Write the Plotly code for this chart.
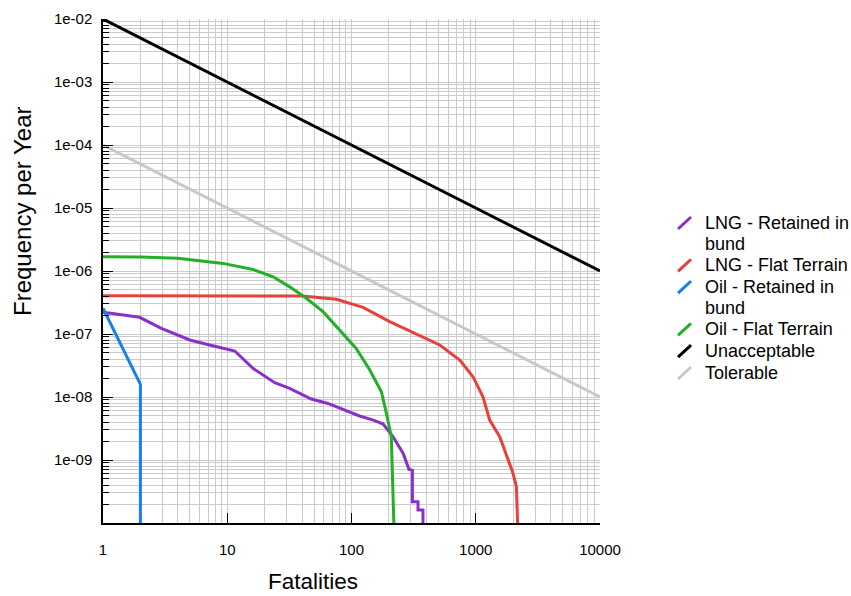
import plotly.graph_objects as go

# ---- data ----
lng_bund_x = [1, 1.97, 2.95, 4.99, 7.22, 11.5, 16.1, 24.1, 31.8, 47.5, 64.7, 103, 116, 150, 180, 216, 260, 290, 309, 309, 343, 343, 376, 376]
lng_bund_y = [2.21e-7, 1.84e-7, 1.23e-7, 8.03e-8, 6.7e-8, 5.37e-8, 2.85e-8, 1.69e-8, 1.37e-8, 9.3e-9, 7.9e-9, 5.6e-9, 5.0e-9, 4.3e-9, 3.72e-9, 2.34e-9, 1.28e-9, 7.1e-10, 6.9e-10, 2.18e-10, 2.18e-10, 1.61e-10, 1.61e-10, 1e-11]

lng_flat_x = [1, 10, 40.5, 75.5, 124, 203, 426, 513, 743, 951, 1143, 1295, 1559, 1995, 2124, 2259]
lng_flat_y = [4.05e-7, 4.05e-7, 4.0e-7, 3.56e-7, 2.65e-7, 1.57e-7, 8.0e-8, 6.7e-8, 3.86e-8, 2.1e-8, 1.01e-8, 4.3e-9, 2.35e-9, 6.15e-10, 3.77e-10, 1e-11]

oil_bund_x = [1, 2, 2]
oil_bund_y = [2.56e-7, 1.59e-8, 1e-11]

oil_flat_x = [1, 2, 4, 9.25, 16.1, 23.4, 31.8, 43.3, 59, 80.4, 109, 140, 174, 191, 209, 227]
oil_flat_y = [1.69e-6, 1.67e-6, 1.6e-6, 1.32e-6, 1.06e-6, 8.1e-7, 5.6e-7, 3.69e-7, 2.26e-7, 1.16e-7, 5.9e-8, 2.7e-8, 1.21e-8, 5.5e-9, 2.35e-9, 1e-11]

unacc_x = [1, 10000]
unacc_y = [1e-2, 1e-6]

tol_x = [1, 10000]
tol_y = [1e-4, 1e-8]

series_names = ["LNG - Retained in bund", "LNG - Flat Terrain", "Oil - Retained in bund",
                "Oil - Flat Terrain", "Unacceptable", "Tolerable"]
legend_lines = [["LNG - Retained in", "bund"], ["LNG - Flat Terrain"], ["Oil - Retained in", "bund"],
                ["Oil - Flat Terrain"], ["Unacceptable"], ["Tolerable"]]
series_x = [lng_bund_x, lng_flat_x, oil_bund_x, oil_flat_x, unacc_x, tol_x]
series_y = [lng_bund_y, lng_flat_y, oil_bund_y, oil_flat_y, unacc_y, tol_y]
series_colors = ["#8b2fc9", "#e8403a", "#1a80e6", "#22b026", "#000000", "#c8c8c8"]

x_tickvals = [1, 10, 100, 1000, 10000]
x_ticktext = ["1", "10", "100", "1000", "10000"]
y_tickvals = [1e-9, 1e-8, 1e-7, 1e-6, 1e-5, 1e-4, 1e-3, 1e-2]
y_ticktext = ["1e-09", "1e-08", "1e-07", "1e-06", "1e-05", "1e-04", "1e-03", "1e-02"]

x_minor = [k * 10 ** d for d in range(0, 4) for k in range(2, 10)]
y_minor = [k * 10.0 ** d for d in range(-10, -2) for k in range(2, 10)]

# ---- layout geometry (pixels) ----
W, H = 851, 596
L, R, T, B = 103, 251, 19, 73
PW, PH = W - L - R, H - T - B


def px2paper(px, py):
    return (px - L) / PW, (H - B - py) / PH


FONT = "Liberation Sans, Arial, sans-serif"
GRID = "#cbcbcb"

fig = go.Figure()
for name, xs, ys, col in zip(series_names, series_x, series_y, series_colors):
    fig.add_trace(go.Scatter(x=xs, y=ys, mode="lines", name=name, showlegend=False,
                             line=dict(color=col, width=3)))

annotations = []
shapes = []
# custom legend (diagonal symbols, tight line spacing like the reference)
row_y = 223
for lines, col in zip(legend_lines, series_colors):
    x0, y0 = px2paper(678, row_y + 6)
    x1, y1 = px2paper(691, row_y - 6)
    shapes.append(dict(type="line", xref="paper", yref="paper", x0=x0, y0=y0, x1=x1, y1=y1,
                       line=dict(color=col, width=3)))
    for ln in lines:
        ax, ay = px2paper(703, row_y)
        annotations.append(dict(text=ln, xref="paper", yref="paper", x=ax, y=ay,
                                xanchor="left", yanchor="middle", showarrow=False,
                                font=dict(family=FONT, size=18, color="black")))
        row_y += 20.5
    row_y += 1.3

# axis titles
tx, ty = px2paper(313, 581)
annotations.append(dict(text="Fatalities", xref="paper", yref="paper", x=tx, y=ty,
                        xanchor="center", yanchor="middle", showarrow=False, borderpad=0,
                        font=dict(family=FONT, size=22.5, color="black")))
tx, ty = px2paper(22, 212)
annotations.append(dict(text="Frequency per Year", xref="paper", yref="paper", x=tx, y=ty,
                        xanchor="center", yanchor="middle", showarrow=False, textangle=-90,
                        font=dict(family=FONT, size=24, color="black")))

fig.update_layout(
    width=W, height=H,
    paper_bgcolor="white", plot_bgcolor="white",
    margin=dict(l=L, r=R, t=T, b=B, autoexpand=False),
    font=dict(family=FONT, size=15, color="black"),
    showlegend=False,
    annotations=annotations,
    shapes=shapes,
)

fig.update_xaxes(
    type="log", range=[0, 4], automargin=False,
    tickmode="array", tickvals=x_tickvals, ticktext=x_ticktext,
    ticks="inside", ticklen=10, tickcolor="black", tickwidth=1,
    showgrid=True, gridcolor=GRID, gridwidth=1,
    showline=True, linecolor="black", linewidth=1.5,
    zeroline=False, ticklabelstandoff=12,
    tickfont=dict(family=FONT, size=15),
    minor=dict(tickmode="array", tickvals=x_minor, showgrid=True,
               gridcolor=GRID, gridwidth=1, ticks=""),
)

fig.update_yaxes(
    type="log", range=[-10, -2], automargin=False,
    tickmode="array", tickvals=y_tickvals, ticktext=y_ticktext,
    ticks="inside", ticklen=10, tickcolor="black", tickwidth=1,
    showgrid=True, gridcolor=GRID, gridwidth=1,
    showline=True, linecolor="black", linewidth=1.5,
    zeroline=False, ticklabelstandoff=6,
    tickfont=dict(family=FONT, size=15),
    minor=dict(tickmode="array", tickvals=y_minor, showgrid=True,
               gridcolor=GRID, gridwidth=1, ticks="inside", ticklen=6,
               tickcolor="black"),
)

fig.write_html("out.html", config={"displayModeBar": False},
               post_script="document.body.style.margin='0';document.body.style.overflow='hidden';")
